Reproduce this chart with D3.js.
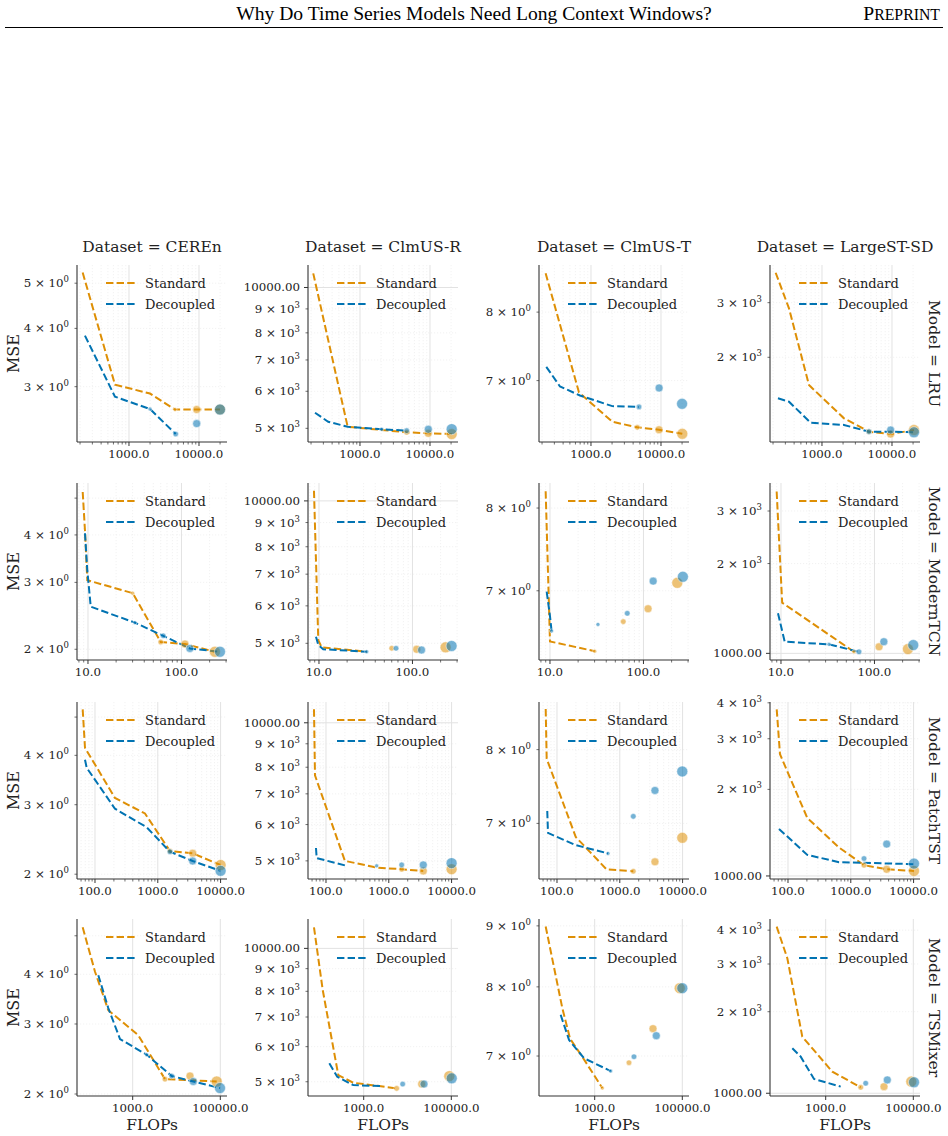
<!DOCTYPE html>
<html>
<head>
<meta charset="utf-8">
<script src="https://cdn.jsdelivr.net/npm/d3@7"></script>
<style>
  body { margin: 0; background: #fff; }
  svg text { font-family: "DejaVu Serif", serif; fill: #222; }
</style>
</head>
<body>
<svg id="chart" width="948" height="1136"></svg>
<script>
// Facets
const datasets = ['CEREn', 'ClmUS-R', 'ClmUS-T', 'LargeST-SD'];
const models = ['LRU', 'ModernTCN', 'PatchTST', 'TSMixer'];

// Axis ranges (x shared per model row, y per panel)
const xDomains = [[181, 25120], [7.63, 307], [51.7, 12650], [53.5, 142200]];
const yDomains = [
    [[2.283, 5.47], [4675, 11170], [6.21, 8.77], [1067, 3967]],
    [[1.874, 5.48], [4610, 10910], [6.26, 8.33], [950, 3724]],
    [[1.945, 5.46], [4565, 11100], [6.33, 8.72], [976, 4026]],
    [[1.977, 5.51], [4643, 11650], [6.48, 9.12], [977, 4398]]
];

// Tick labels
const xTickLabels = [[1000, 10000], [10, 100], [100, 1000, 10000], [1000, 100000]];
const xMinorTicks = [true, true, true, false];
const yTickLabels = [
    [[5, 4, 3], [10000, 9000, 8000, 7000, 6000, 5000], [8, 7], [3000, 2000]],
    [[4, 3, 2], [10000, 9000, 8000, 7000, 6000, 5000], [8, 7], [3000, 2000, 1000]],
    [[4, 3, 2], [10000, 9000, 8000, 7000, 6000, 5000], [8, 7], [4000, 3000, 2000, 1000]],
    [[4, 3, 2], [10000, 9000, 8000, 7000, 6000, 5000], [9, 8, 7], [4000, 3000, 2000, 1000]]
];

// Lines: [FLOPs, MSE]; dots: [FLOPs, MSE, size level]
const lruStd = [
    [[218, 5.27], [631, 3.03], [1995, 2.90], [4540, 2.68], [9270, 2.68], [19950, 2.68]],
    [[215, 10720], [667, 5040], [4645, 4903], [9460, 4878], [20420, 4861]],
    [[225, 8.63], [674, 6.84], [2015, 6.46], [4584, 6.39], [9360, 6.36], [20140, 6.31]],
    [[218, 3746], [338, 2875], [652, 1628], [2061, 1272], [4690, 1152], [9570, 1132], [20620, 1166]]
];
const lruDec = [
    [[235, 3.86], [631, 2.855], [1995, 2.687], [4645, 2.375]],
    [[228, 5399], [352, 5165], [667, 5040], [2042, 4977], [4645, 4943]],
    [[230, 7.19], [361, 6.92], [696, 6.80], [2015, 6.66], [4850, 6.65]],
    [[235, 1476], [338, 1439], [689, 1231], [2061, 1211], [4690, 1152], [9570, 1152], [20620, 1147]]
];
const lruStdDots = [
    [[4540, 2.68, 0], [9270, 2.68, 2], [19950, 2.68, 3]],
    [[4645, 4903, 1], [9460, 4878, 2], [20420, 4861, 3]],
    [[4584, 6.39, 1], [9360, 6.36, 2], [20140, 6.31, 3]],
    [[4690, 1152, 1], [9570, 1132, 2], [20620, 1166, 3]]
];
const lruDecDots = [
    [[1995, 2.687, 0], [4645, 2.375, 1], [9270, 2.50, 2], [19950, 2.68, 3]],
    [[2042, 4977, 0], [4645, 4943, 1], [9460, 4977, 2], [20420, 4980, 3]],
    [[4850, 6.65, 1], [9400, 6.90, 2], [20000, 6.69, 3]],
    [[4690, 1152, 1], [9570, 1166, 2], [20620, 1147, 3]]
];

const tcnStd = [
    [[8.78, 5.19], [9.29, 4.10], [9.83, 3.04], [30.1, 2.81], [60, 2.09], [109, 2.065], [228, 1.97]],
    [[8.84, 10510], [9.83, 5080], [10.7, 4903], [32.4, 4800]],
    [[8.99, 8.22], [10, 6.45], [30.1, 6.35]],
    [[8.99, 3486], [10.3, 1478], [60.4, 1012]]
];
const tcnDec = [
    [[9.29, 4.04], [9.83, 3.23], [10.7, 2.59], [31.8, 2.35], [63.8, 2.17], [123, 2.01], [258, 1.97]],
    [[9.29, 5165], [9.83, 4960], [11.1, 4857], [32.4, 4800]],
    [[9.22, 6.99], [10, 6.72], [10.4, 6.56]],
    [[9.29, 1362], [10.96, 1094], [32.6, 1072], [68.3, 1012]]
];
const tcnStdDots = [
    [[30.1, 2.81, 0], [60, 2.09, 1], [109, 2.065, 2], [228, 1.97, 3]],
    [[60, 4880, 1], [111, 4857, 2], [226, 4903, 3]],
    [[30.1, 6.35, 0], [60.8, 6.66, 1], [112, 6.80, 2], [230, 7.09, 3]],
    [[60.4, 1012, 0], [112, 1052, 2], [228, 1034, 3]]
];
const tcnDecDots = [
    [[31.8, 2.35, 0], [63.8, 2.17, 1], [123, 2.01, 2], [258, 1.97, 3]],
    [[32.4, 4800, 0], [66.7, 4880, 1], [125, 4840, 2], [262, 4935, 3]],
    [[10.4, 6.56, 0], [32.6, 6.63, 0], [67.1, 6.75, 1], [127, 7.11, 2], [264, 7.16, 3]],
    [[32.6, 1072, 0], [68.3, 1012, 1], [126, 1094, 2], [260, 1066, 3]]
];

const patchStd = [
    [[63.7, 5.23], [69.3, 4.18], [208, 3.12], [625, 2.85], [1563, 2.29], [3596, 2.26], [10000, 2.11]],
    [[64.4, 10700], [66.8, 7680], [200, 5000], [641, 4834], [1604, 4795], [3540, 4753]],
    [[66.1, 8.61], [68.5, 7.87], [199, 6.83], [618, 6.44], [1641, 6.42]],
    [[66.1, 3797], [74.6, 2650], [203, 1591], [649, 1256], [1625, 1090], [3733, 1055], [10140, 1041]]
];
const patchDec = [
    [[69.3, 3.90], [73.8, 3.72], [208, 2.93], [665, 2.63], [1563, 2.28], [3596, 2.16], [10000, 2.04]],
    [[69.3, 5333], [71.1, 5070], [214, 4876]],
    [[70, 7.16], [71.9, 6.88], [199, 6.73], [649, 6.63]],
    [[71.9, 1457], [203, 1184], [649, 1117], [10140, 1099]]
];
const patchStdDots = [
    [[1563, 2.29, 1], [3596, 2.26, 2], [10000, 2.11, 3]],
    [[1604, 4795, 1], [3540, 4753, 2], [10000, 4795, 3]],
    [[1641, 6.42, 1], [3631, 6.53, 2], [9885, 6.82, 3]],
    [[1625, 1090, 1], [3733, 1055, 2], [10140, 1041, 3]]
];
const patchDecDots = [
    [[1563, 2.28, 1], [3596, 2.16, 2], [10000, 2.04, 3]],
    [[641, 4876, 0], [1604, 4900, 1], [3540, 4900, 2], [10000, 4943, 3]],
    [[649, 6.63, 0], [1641, 7.09, 1], [3631, 7.43, 2], [9885, 7.69, 3]],
    [[1625, 1150, 1], [3733, 1291, 2], [10140, 1104, 3]]
];

const mixerStd = [
    [[72.1, 5.25], [138, 4.06], [277, 3.25], [1342, 2.81], [5458, 2.18], [82750, 2.15]],
    [[73.3, 11160], [116, 8054], [263, 5176], [579, 4974], [5662, 4831]],
    [[76, 8.99], [182, 7.68], [273, 7.24], [521, 6.99], [1492, 6.58]],
    [[76, 4120], [133, 3150], [292, 1618], [1415, 1201], [6296, 1052]]
];
const mixerDec = [
    [[164, 3.98], [277, 3.29], [513, 2.75], [2089, 2.51], [7762, 2.22], [24190, 2.15], [98400, 2.07]],
    [[164, 5502], [249, 5133], [579, 4913], [2355, 4888]],
    [[167, 7.58], [260, 7.22], [570, 6.97], [2318, 6.80]],
    [[173, 1466], [269, 1365], [541, 1129], [2198, 1058]]
];
const mixerStdDots = [
    [[5458, 2.18, 1], [20320, 2.22, 2], [82750, 2.15, 3]],
    [[5662, 4831, 1], [21090, 4940, 2], [89950, 5148, 3]],
    [[1492, 6.58, 0], [6067, 6.91, 1], [21420, 7.38, 2], [87320, 7.98, 3]],
    [[6296, 1052, 1], [21420, 1058, 2], [89950, 1104, 3]]
];
const mixerDecDots = [
    [[2089, 2.51, 0], [7762, 2.22, 1], [24190, 2.15, 2], [98400, 2.07, 3]],
    [[7762, 4940, 1], [23820, 4940, 2], [102100, 5090, 3]],
    [[2318, 6.80, 0], [7887, 6.99, 1], [25470, 7.28, 2], [100000, 7.98, 3]],
    [[8185, 1089, 1], [25470, 1120, 2], [103700, 1098, 3]]
];

const stdLines = [lruStd, tcnStd, patchStd, mixerStd];
const decLines = [lruDec, tcnDec, patchDec, mixerDec];
const stdDots = [lruStdDots, tcnStdDots, patchStdDots, mixerStdDots];
const decDots = [lruDecDots, tcnDecDots, patchDecDots, mixerDecDots];

// Layout
const W = 150, H = 177;
const colLeft = c => 77 + 231 * c;
const rowTops = [265, 483, 702, 919];
const ORANGE = '#de8f05', BLUE = '#0173b2';
const dotRadius = d3.scaleOrdinal().domain([0, 1, 2, 3]).range([2, 2.8, 4, 5.5]);

const svg = d3.select('#chart');

// Page header
svg.append('text')
    .attr('x', 474).attr('y', 20)
    .attr('text-anchor', 'middle')
    .style('font-family', '"Liberation Serif", serif')
    .style('font-size', '19.6px')
    .style('fill', '#000')
    .text('Why Do Time Series Models Need Long Context Windows?');

const pre = svg.append('text')
    .attr('x', 940).attr('y', 20)
    .attr('text-anchor', 'end')
    .style('font-family', '"Liberation Serif", serif')
    .style('fill', '#000');
pre.append('tspan').style('font-size', '19.6px').text('P');
pre.append('tspan').style('font-size', '15.8px').text('REPRINT');

svg.append('line')
    .attr('x1', 5).attr('x2', 943)
    .attr('y1', 27.5).attr('y2', 27.5)
    .attr('stroke', '#000').attr('stroke-width', 1);

// all m*10^k values inside a domain
function logTicks(domain) {
    const out = [];
    const k0 = Math.floor(Math.log10(domain[0]));
    const k1 = Math.ceil(Math.log10(domain[1]));
    for (let k = k0; k <= k1; k++) {
        for (let m = 1; m <= 9; m++) {
            const v = m * Math.pow(10, k);
            if (v >= domain[0] && v <= domain[1]) out.push({ v, major: m === 1, m, k });
        }
    }
    return out;
}

function yLabel(sel, t) {
    if (t.major) {
        sel.text(t.v.toFixed(2));
    } else {
        sel.append('tspan').text(`${t.m} × 10`);
        sel.append('tspan').attr('dy', -5).style('font-size', '8.5px').text(t.k);
    }
}

models.forEach((model, r) => {
    datasets.forEach((ds, c) => {
        const left = colLeft(c), top = rowTops[r];
        const g = svg.append('g').attr('transform', `translate(${left},${top})`);

        const x = d3.scaleLog().domain(xDomains[r]).range([0, W]);
        const y = d3.scaleLog().domain(yDomains[r][c]).range([H, 0]);

        // x ticks
        let xt = logTicks(x.domain());
        if (!xMinorTicks[r]) xt = xt.filter(t => xTickLabels[r].includes(t.v));
        const yt = logTicks(y.domain());

        // grid
        g.selectAll('.xgrid').data(xt).join('line')
            .attr('x1', d => x(d.v)).attr('x2', d => x(d.v))
            .attr('y1', 0).attr('y2', H)
            .attr('stroke', d => d.major ? '#e2e2e2' : '#ececec')
            .attr('stroke-width', d => d.major ? 1 : 0.7)
            .attr('stroke-dasharray', d => d.major ? null : '1.2,1.8');
        g.selectAll('.ygrid').data(yt).join('line')
            .attr('x1', 0).attr('x2', W)
            .attr('y1', d => y(d.v)).attr('y2', d => y(d.v))
            .attr('stroke', d => d.major ? '#e2e2e2' : '#ececec')
            .attr('stroke-width', d => d.major ? 1 : 0.7)
            .attr('stroke-dasharray', d => d.major ? null : '1.2,1.8');

        // lines
        const line = d3.line().x(d => x(d[0])).y(d => y(d[1]));
        [[stdLines, ORANGE], [decLines, BLUE]].forEach(([src, col]) => {
            g.append('path')
                .datum(src[r][c])
                .attr('d', line)
                .attr('fill', 'none')
                .attr('stroke', col)
                .attr('stroke-width', 2)
                .attr('stroke-dasharray', '7.4,3.2');
        });

        // dots
        [[stdDots, ORANGE], [decDots, BLUE]].forEach(([src, col]) => {
            g.append('g').selectAll('circle').data(src[r][c]).join('circle')
                .attr('cx', d => x(d[0]))
                .attr('cy', d => y(d[1]))
                .attr('r', d => dotRadius(d[2]))
                .attr('fill', col)
                .attr('fill-opacity', 0.55)
                .attr('stroke', '#fff')
                .attr('stroke-width', 0.5);
        });

        // spines
        g.append('line').attr('x1', 0).attr('x2', 0).attr('y1', 0).attr('y2', H)
            .attr('stroke', '#333').attr('stroke-width', 1.1);
        g.append('line').attr('x1', 0).attr('x2', W).attr('y1', H).attr('y2', H)
            .attr('stroke', '#333').attr('stroke-width', 1.1);

        // x tick marks + labels
        g.selectAll('.xtick').data(xt).join('line')
            .attr('x1', d => x(d.v)).attr('x2', d => x(d.v))
            .attr('y1', H).attr('y2', d => H + (d.major ? 4 : 2.5))
            .attr('stroke', '#333').attr('stroke-width', d => d.major ? 1 : 0.7);
        g.selectAll('.xlab').data(xt.filter(t => xTickLabels[r].includes(t.v))).join('text')
            .attr('x', d => x(d.v)).attr('y', H + 16)
            .attr('text-anchor', 'middle')
            .style('font-size', '11.8px')
            .text(d => d.v.toFixed(1));

        // y tick marks + labels
        g.selectAll('.ytick').data(yt).join('line')
            .attr('x1', 0).attr('x2', d => -(d.major ? 4 : 2.5))
            .attr('y1', d => y(d.v)).attr('y2', d => y(d.v))
            .attr('stroke', '#333').attr('stroke-width', d => d.major ? 1 : 0.7);
        g.selectAll('.ylab').data(yt.filter(t => yTickLabels[r][c].includes(t.v))).join('text')
            .attr('x', -8).attr('y', d => y(d.v) + 4)
            .attr('text-anchor', 'end')
            .style('font-size', '11.8px')
            .each(function(d) { yLabel(d3.select(this), d); });

        // legend
        [['Standard', ORANGE, 18], ['Decoupled', BLUE, 39]].forEach(([name, col, ly]) => {
            g.append('line')
                .attr('x1', 29).attr('x2', 58).attr('y1', ly).attr('y2', ly)
                .attr('stroke', col).attr('stroke-width', 2)
                .attr('stroke-dasharray', '7.4,3.2');
            g.append('text')
                .attr('x', 68).attr('y', ly + 4.5)
                .style('font-size', '13px')
                .text(name);
        });

        // facet titles
        if (r === 0) {
            g.append('text')
                .attr('x', W / 2).attr('y', -13)
                .attr('text-anchor', 'middle')
                .style('font-size', '15.5px')
                .text(`Dataset = ${ds}`);
        }
        if (c === 3) {
            g.append('text')
                .attr('transform', `translate(${934 - left},${H / 2}) rotate(90)`)
                .attr('text-anchor', 'middle')
                .attr('dy', '0.35em')
                .style('font-size', '15.5px')
                .text(`Model = ${model}`);
        }
        if (c === 0) {
            g.append('text')
                .attr('transform', `translate(${13 - left},${H / 2}) rotate(-90)`)
                .attr('text-anchor', 'middle')
                .attr('dy', '0.35em')
                .style('font-size', '16px')
                .text('MSE');
        }
        if (r === 3) {
            g.append('text')
                .attr('x', W / 2).attr('y', 1130 - top)
                .attr('text-anchor', 'middle')
                .style('font-size', '15.5px')
                .text('FLOPs');
        }
    });
});
</script>
</body>
</html>
